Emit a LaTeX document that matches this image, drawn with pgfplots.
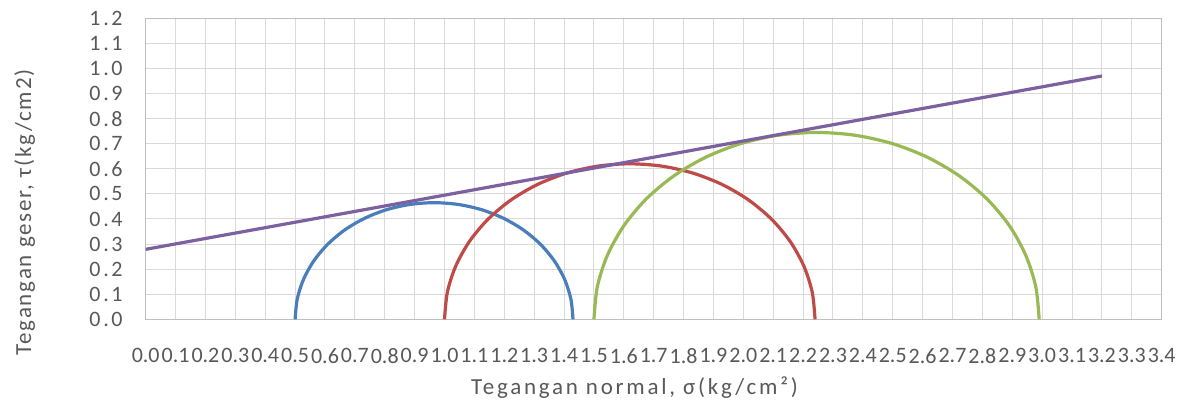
\documentclass[border=0pt]{standalone}
\usepackage{fontspec}
\setmainfont{Carlito}
\newfontfamily\widefont[LetterSpace=8]{Carlito}
\newfontfamily\xlabfont[LetterSpace=12]{Carlito}
\newfontfamily\ytickfont[LetterSpace=12]{Carlito}
\usepackage{pgfplots}
\pgfplotsset{compat=1.18}
\definecolor{gridgray}{HTML}{D9D9D9}
\definecolor{axgray}{HTML}{BFBFBF}
\definecolor{txtgray}{HTML}{595959}
\definecolor{xlblue}{HTML}{4A7EBB}
\definecolor{xlred}{HTML}{BE4B48}
\definecolor{xlgreen}{HTML}{98B954}
\definecolor{xlpurple}{HTML}{7D60A0}

\begin{document}
\begin{tikzpicture}
\useasboundingbox (-72.85pt,-41.85pt) rectangle (522.15pt,159.65pt);
\begin{axis}[
    at={(0,0)}, anchor=south west,
    scale only axis,
    width=508pt, height=150.5pt,
    xmin=0, xmax=3.4, ymin=0, ymax=1.2,
    xtick distance=0.1, ytick distance=0.1,
    grid=major,
    major grid style={gridgray, line width=0.5pt},
    axis line style={axgray, line width=0.6pt},
    major tick length=0pt,
    xticklabel style={font=\fontsize{11}{13}\selectfont, text=txtgray,
        anchor=center, yshift=-18.3pt},
    yticklabel style={font=\ytickfont\fontsize{11}{13}\selectfont, text=txtgray,
        xshift=-8pt},
    /pgf/number format/.cd, fixed, fixed zerofill, precision=1,
        assume math mode=true, /pgfplots/.cd,
    xlabel={Tegangan normal, σ(kg/cm²)},
    ylabel={Tegangan geser, τ(kg/cm2)},
    xlabel style={font=\xlabfont\fontsize{11.5}{13}\selectfont, text=txtgray,
        at={(axis description cs:0.481,-0.228)}, anchor=center},
    ylabel style={font=\widefont\fontsize{11.5}{13}\selectfont, text=txtgray,
        at={(axis description cs:-0.119,0.355)}, anchor=center},
    every axis plot/.append style={line width=1.6pt, no marks},
    clip=false,
]
% Mohr circles
\addplot[xlblue, smooth] coordinates {
(0.500,0) (0.5071,0.0807) (0.5280,0.1590) (0.5623,0.2325) (0.6088,0.2989)
(0.6661,0.3562) (0.7325,0.4027) (0.8060,0.4370) (0.8843,0.4579) (0.965,0.465)
(1.0457,0.4579) (1.1240,0.4370) (1.1975,0.4027) (1.2639,0.3562) (1.3212,0.2989)
(1.3677,0.2325) (1.4020,0.1590) (1.4229,0.0807) (1.430,0)
};
\addplot[xlred, smooth] coordinates {
(1.000,0) (1.0094,0.1076) (1.0374,0.2120) (1.0831,0.3100) (1.1451,0.3985)
(1.2215,0.4749) (1.3100,0.5369) (1.4080,0.5826) (1.5124,0.6106) (1.620,0.620)
(1.7276,0.6106) (1.8320,0.5826) (1.9300,0.5369) (2.0185,0.4749) (2.0949,0.3985)
(2.1569,0.3100) (2.2026,0.2120) (2.2306,0.1076) (2.240,0)
};
\addplot[xlgreen, smooth] coordinates {
(1.500,0) (1.5113,0.1293) (1.5449,0.2548) (1.5998,0.3725) (1.6743,0.4789)
(1.7661,0.5707) (1.8725,0.6452) (1.9902,0.7001) (2.1157,0.7337) (2.245,0.745)
(2.3743,0.7337) (2.4998,0.7001) (2.6175,0.6452) (2.7239,0.5707) (2.8161,0.4789)
(2.8907,0.3725) (2.9452,0.2548) (2.9787,0.1293) (2.990,0)
};
% failure envelope
\addplot[xlpurple] coordinates {(0,0.279) (3.2,0.970)};
\end{axis}
\end{tikzpicture}
\end{document}
